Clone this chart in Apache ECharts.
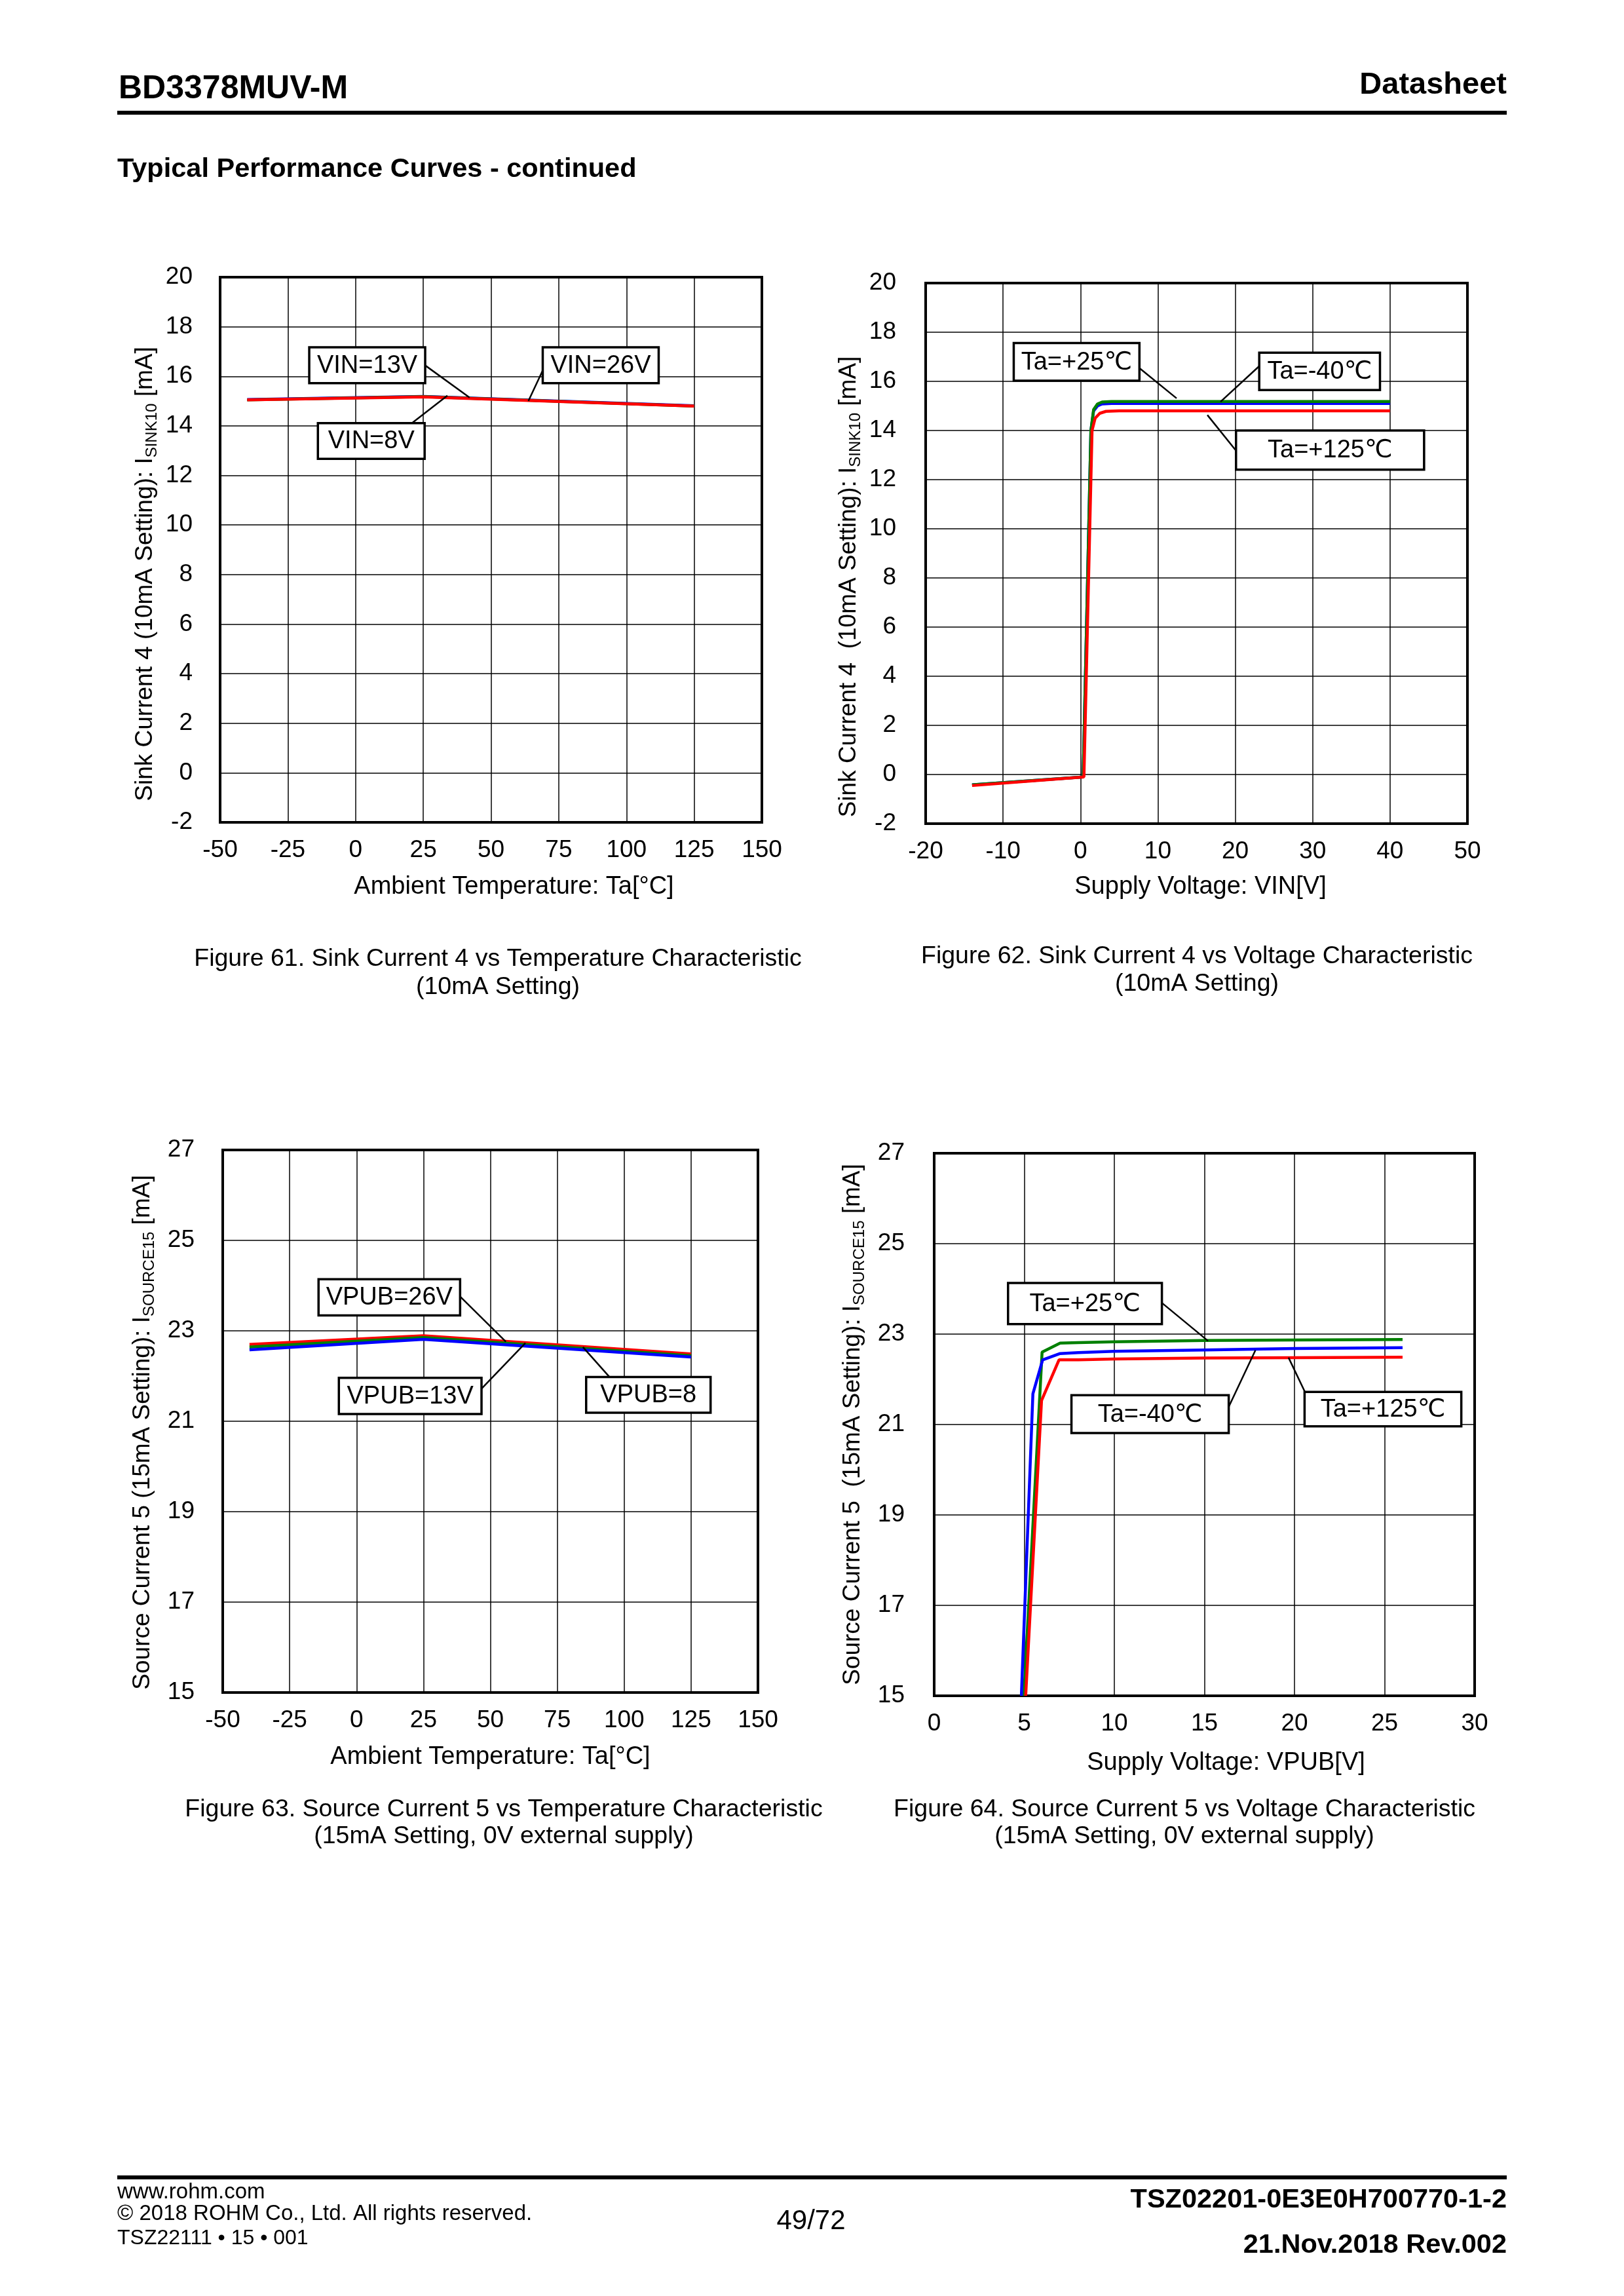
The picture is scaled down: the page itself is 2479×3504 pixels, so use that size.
<!DOCTYPE html>
<html><head><meta charset="utf-8">
<script src="https://cdn.jsdelivr.net/npm/echarts@6/dist/echarts.min.js"></script>
<style>html,body{margin:0;padding:0;background:#fff}#main{width:2479px;height:3504px}</style>
</head><body><div id="main"></div>
<script>
// ---------- DATA ----------
// Figure 61: Sink current 4 vs temperature (x = Ta [°C], y = mA)
const fig61Temp = [-40, 25, 125];
const fig61VIN8 = [15.06, 15.19, 14.81];
const fig61VIN13 = [15.05, 15.18, 14.80];
const fig61VIN26 = [15.05, 15.17, 14.80];

// Figure 62: Sink current 4 vs VIN (x = V, y = mA)
const fig62m40X = [-14, 0.35, 1.35, 1.7, 2.2, 2.8, 4, 40];
const fig62m40Y = [-0.42, -0.1, 14.0, 14.8, 15.0, 15.08, 15.1, 15.1];
const fig62p25X = [-14, 0.35, 1.35, 1.7, 2.2, 2.8, 4, 40];
const fig62p25Y = [-0.42, -0.1, 14.0, 14.85, 15.08, 15.16, 15.18, 15.18];
const fig62p125X = [-14, 0.45, 1.5, 1.9, 2.5, 3.3, 5, 40];
const fig62p125Y = [-0.45, -0.1, 14.0, 14.5, 14.7, 14.78, 14.8, 14.8];

// Figure 63: Source current 5 vs temperature
const fig63Temp = [-40, 25, 125];
const fig63VPUB8 = [22.58, 22.81, 22.42];
const fig63VPUB13 = [22.64, 22.85, 22.45];
const fig63VPUB26 = [22.70, 22.89, 22.49];

// Figure 64: Source current 5 vs VPUB
const fig64m40X = [4.84, 5.48, 6.02, 6.99, 8, 10, 15, 20, 26];
const fig64m40Y = [15.0, 21.68, 22.43, 22.57, 22.59, 22.62, 22.65, 22.68, 22.70];
const fig64p25X = [4.98, 5.99, 6.99, 8, 10, 15, 20, 26];
const fig64p25Y = [15.0, 22.6, 22.8, 22.81, 22.83, 22.86, 22.87, 22.88];
const fig64p125X = [5.08, 5.96, 6.93, 8, 10, 15, 20, 26];
const fig64p125Y = [15.0, 21.53, 22.43, 22.43, 22.45, 22.47, 22.48, 22.49];

// Annotation callouts (text, box corners and leader line in data coordinates)
const annotations = [
  {grid:0, text:'VIN=13V', box:[-17.1, 17.17, 25.7, 15.72], leader:[[25.7,16.44],[42.1,15.14]]},
  {grid:0, text:'VIN=26V', box:[69.1, 17.17, 111.9, 15.72], leader:[[69.1,16.24],[63.8,15.0]]},
  {grid:0, text:'VIN=8V', box:[-13.9, 14.11, 25.5, 12.67], leader:[[20.8,14.11],[33.9,15.22]]},
  {grid:1, text:'Ta=+25\u2103', box:[-8.62,17.56,7.62,16.03], leader:[[7.62,16.54],[12.42,15.31]]},
  {grid:1, text:'Ta=-40\u2103', box:[23.1,17.17,38.7,15.65], leader:[[23.1,16.62],[18.1,15.17]]},
  {grid:1, text:'Ta=+125\u2103', box:[20.1,14.0,44.4,12.41], leader:[[20.1,13.18],[16.4,14.63]]},
  {grid:2, text:'VPUB=26V', box:[-14.2,24.14,38.7,23.34], leader:[[38.7,23.76],[55.8,22.76]]},
  {grid:2, text:'VPUB=13V', box:[-6.6,21.96,46.7,21.16], leader:[[46.7,21.72],[63.1,22.73]]},
  {grid:2, text:'VPUB=8', box:[85.8,21.98,132.3,21.19], leader:[[94.5,21.98],[84.6,22.64]]},
  {grid:3, text:'Ta=+25\u2103', box:[4.1,24.13,12.64,23.22], leader:[[12.64,23.69],[15.2,22.85]]},
  {grid:3, text:'Ta=-40\u2103', box:[7.62,21.65,16.35,20.81], leader:[[16.35,21.39],[17.83,22.64]]},
  {grid:3, text:'Ta=+125\u2103', box:[20.56,21.72,29.26,20.96], leader:[[20.58,21.72],[19.67,22.48]]}
];

// ---------- CHART ----------
const FONT = '"Liberation Sans", Arial, "DejaVu Sans", "Noto Sans CJK JP", sans-serif';
const RED = '#ff0000', GREEN = '#008000', BLUE = '#0000ff';
const zip = (xs, ys) => xs.map((x, i) => [x, ys[i]]);

const chart = echarts.init(document.getElementById('main'), null, {renderer: 'canvas'});

const grids = [
  {left: 336, top: 423, width: 827, height: 832},
  {left: 1413, top: 432, width: 827, height: 825},
  {left: 340, top: 1755, width: 817, height: 828},
  {left: 1426, top: 1760, width: 825, height: 828}
].map(g => Object.assign(g, {show: true, borderColor: '#000', borderWidth: 4, backgroundColor: 'transparent', containLabel: false}));

function xAx(gi, min, max, interval, name, nameGap, shift) {
  return {
    type: 'value', gridIndex: gi, min, max, interval,
    axisLine: {show: true, onZero: false, lineStyle: {color: '#000', width: 4}},
    axisTick: {show: false},
    splitLine: {show: true, lineStyle: {color: '#000', width: 1.5}},
    axisLabel: {show: true, margin: 24, fontSize: 37, color: '#000', fontFamily: FONT, showMinLabel: true, showMaxLabel: true},
    name, nameLocation: 'middle', nameGap,
    nameTextStyle: {fontSize: 38, color: '#000', fontFamily: FONT, padding: [0, 0, 0, 2 * shift]}
  };
}
function yAx(gi, min, max, interval, main, sub, nameGap, shift, labelMargin) {
  return {
    type: 'value', gridIndex: gi, min, max, interval,
    axisLine: {show: true, onZero: false, lineStyle: {color: '#000', width: 4}},
    axisTick: {show: false},
    splitLine: {show: true, lineStyle: {color: '#000', width: 1.5}},
    axisLabel: {show: true, margin: labelMargin, fontSize: 37, color: '#000', fontFamily: FONT, showMinLabel: true, showMaxLabel: true},
    name: '{m|' + main + '}{s|' + sub + '}{m| [mA]}',
    nameLocation: 'middle', nameRotate: 90, nameGap,
    nameTextStyle: {
      fontSize: 37, color: '#000', fontFamily: FONT, padding: [0, 2 * shift, 0, 0],
      rich: {
        m: {fontSize: 37, lineHeight: 44, fontFamily: FONT, color: '#000'},
        s: {fontSize: 24, lineHeight: 24, verticalAlign: 'bottom', fontFamily: FONT, color: '#000'}
      }
    }
  };
}

function line(gi, data, color, z) {
  return {type: 'line', xAxisIndex: gi, yAxisIndex: gi, data, showSymbol: false, symbol: 'none',
    lineStyle: {color, width: 4.5}, itemStyle: {color}, clip: true, z, silent: true};
}

const option = {
  animation: false,
  backgroundColor: '#fff',
  grid: grids,
  xAxis: [
    xAx(0, -50, 150, 25, 'Ambient Temperature: Ta[\u00b0C]', 80, 35),
    xAx(1, -20, 50, 10, 'Supply Voltage: VIN[V]', 78, 6),
    xAx(2, -50, 150, 25, 'Ambient Temperature: Ta[\u00b0C]', 80, 0),
    xAx(3, 0, 30, 5, 'Supply Voltage: VPUB[V]', 84, 33)
  ],
  yAxis: [
    yAx(0, -2, 20, 2, 'Sink Current 4 (10mA Setting): I', 'SINK10', 92, 37, 42),
    yAx(1, -2, 20, 2, 'Sink Current 4  (10mA Setting): I', 'SINK10', 95, 51, 45),
    yAx(2, 15, 27, 2, 'Source Current 5 (15mA Setting): I', 'SOURCE15', 100, 17, 43),
    yAx(3, 15, 27, 2, 'Source Current 5  (15mA Setting): I', 'SOURCE15', 102, 0, 45)
  ],
  series: [
    line(0, zip(fig61Temp, fig61VIN8), BLUE, 2),
    line(0, zip(fig61Temp, fig61VIN13), GREEN, 3),
    line(0, zip(fig61Temp, fig61VIN26), RED, 4),
    line(1, zip(fig62m40X, fig62m40Y), BLUE, 2),
    line(1, zip(fig62p25X, fig62p25Y), GREEN, 3),
    line(1, zip(fig62p125X, fig62p125Y), RED, 4),
    line(2, zip(fig63Temp, fig63VPUB8), BLUE, 4),
    line(2, zip(fig63Temp, fig63VPUB13), GREEN, 3),
    line(2, zip(fig63Temp, fig63VPUB26), RED, 2),
    line(3, zip(fig64m40X, fig64m40Y), BLUE, 3),
    line(3, zip(fig64p25X, fig64p25Y), GREEN, 2),
    line(3, zip(fig64p125X, fig64p125Y), RED, 4)
  ]
};
chart.setOption(option);

// ---------- PAGE TEXT & CALLOUTS ----------
function txt(text, x, y, size, opts) {
  opts = opts || {};
  return {type: 'text', z: 100, style: {text, x, y, font: (opts.bold ? 'bold ' : '') + size + 'px ' + FONT,
    fill: '#000', align: opts.align || 'left', verticalAlign: 'middle'}};
}
const g = [];
g.push(txt('BD3378MUV-M', 181, 136, 50, {bold: true}));
g.push(txt('Datasheet', 2300, 130, 47, {bold: true, align: 'right'}));
g.push({type: 'rect', z: 100, shape: {x: 179, y: 169, width: 2121, height: 6}, style: {fill: '#000'}});
g.push(txt('Typical Performance Curves - continued', 179, 259, 41.5, {bold: true}));

g.push(txt('Figure 61. Sink Current 4 vs Temperature Characteristic', 760, 1464, 37.5, {align: 'center'}));
g.push(txt('(10mA Setting)', 760, 1507, 37.5, {align: 'center'}));
g.push(txt('Figure 62. Sink Current 4 vs Voltage Characteristic', 1827, 1460, 37.5, {align: 'center'}));
g.push(txt('(10mA Setting)', 1827, 1502, 37.5, {align: 'center'}));
g.push(txt('Figure 63. Source Current 5 vs Temperature Characteristic', 769, 2762, 37.5, {align: 'center'}));
g.push(txt('(15mA Setting, 0V external supply)', 769, 2803, 37.5, {align: 'center'}));
g.push(txt('Figure 64. Source Current 5 vs Voltage Characteristic', 1808, 2762, 37.5, {align: 'center'}));
g.push(txt('(15mA Setting, 0V external supply)', 1808, 2803, 37.5, {align: 'center'}));

g.push({type: 'rect', z: 100, shape: {x: 179, y: 3320, width: 2121, height: 6}, style: {fill: '#000'}});
g.push(txt('www.rohm.com', 179, 3346, 33));
g.push(txt('\u00a9 2018 ROHM Co., Ltd. All rights reserved.', 179, 3379, 33));
g.push(txt('TSZ22111 \u2022 15 \u2022 001', 179, 3416, 32));
g.push(txt('49/72', 1238, 3390, 42, {align: 'center'}));
g.push(txt('TSZ02201-0E3E0H700770-1-2', 2300, 3358, 41.5, {bold: true, align: 'right'}));
g.push(txt('21.Nov.2018 Rev.002', 2300, 3427, 41.5, {bold: true, align: 'right'}));

annotations.forEach(a => {
  const p1 = chart.convertToPixel({gridIndex: a.grid}, [a.box[0], a.box[1]]);
  const p2 = chart.convertToPixel({gridIndex: a.grid}, [a.box[2], a.box[3]]);
  const l1 = chart.convertToPixel({gridIndex: a.grid}, a.leader[0]);
  const l2 = chart.convertToPixel({gridIndex: a.grid}, a.leader[1]);
  g.push({type: 'line', z: 110, shape: {x1: l1[0], y1: l1[1], x2: l2[0], y2: l2[1]}, style: {stroke: '#000', lineWidth: 2.5}});
  g.push({type: 'rect', z: 111, shape: {x: p1[0], y: p1[1], width: p2[0] - p1[0], height: p2[1] - p1[1]},
    style: {fill: '#fff', stroke: '#000', lineWidth: 3.5}});
  g.push({type: 'text', z: 112, style: {text: a.text, x: (p1[0] + p2[0]) / 2, y: (p1[1] + p2[1]) / 2 + 1,
    font: '38px ' + FONT, fill: '#000', align: 'center', verticalAlign: 'middle'}});
});
chart.setOption({graphic: g});
</script></body></html>
